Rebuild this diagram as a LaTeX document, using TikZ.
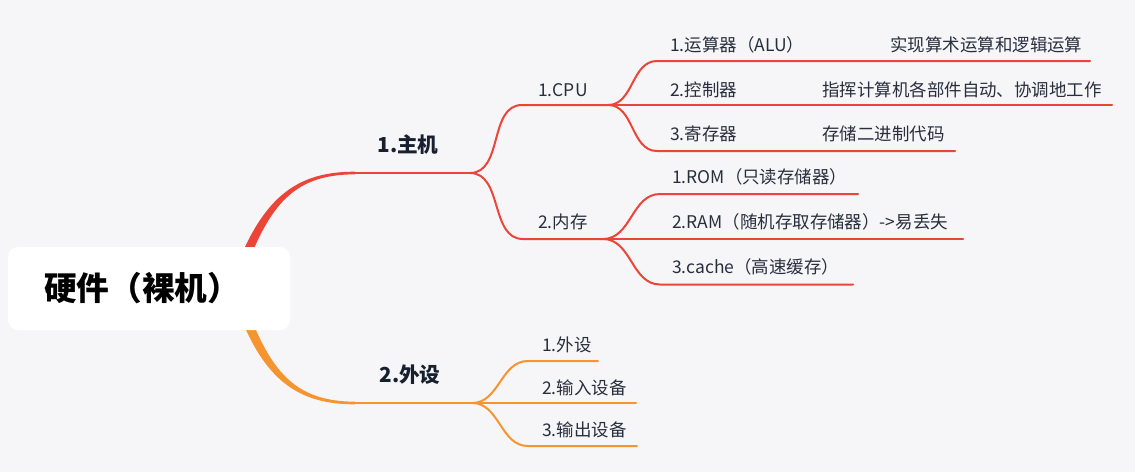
\documentclass[tikz,border=0pt]{standalone}
\usepackage{fontspec}
\setmainfont{Noto Sans CJK SC}
\definecolor{bg}{RGB}{246,246,249}
\definecolor{redb}{RGB}{236,68,55}
\definecolor{orangeb}{RGB}{246,149,48}
\definecolor{lbl}{RGB}{40,46,60}
\definecolor{lblb}{RGB}{24,32,48}
\begin{document}
\begin{tikzpicture}[x=0.75pt,y=-0.75pt,
  lab/.style={anchor=west,inner sep=0pt,text=lbl,font=\fontsize{13.1}{15}\selectfont},
  blab/.style={anchor=center,inner sep=0pt,text=lblb,font=\fontsize{15.5}{18}\selectfont\bfseries},
  rootbox/.style={fill=white,rounded corners=7.5pt,minimum width=211.5pt,minimum height=62.25pt,inner sep=0pt,text=black,font=\fontsize{24.5}{28}\selectfont\bfseries},
  rline/.style={draw=redb,line width=1.5pt,line cap=round},
  oline/.style={draw=orangeb,line width=1.5pt,line cap=round}]
\fill[bg] (0,0) rectangle (1135,472);
\useasboundingbox (0,0) rectangle (1135,472);

% tapered main branches (behind root)
\fill[redb] (228,290) .. controls (257,204) and (290,171.4) .. (355,171.7) -- (355,174.3) .. controls (291,174.6) and (267,206) .. (238,290) -- cycle;
\fill[orangeb] (230,288) .. controls (257,372) and (290,404.6) .. (355,404.3) -- (355,401.7) .. controls (291,401.4) and (267,368) .. (240,288) -- cycle;

\node[rootbox] (root) at (149,288.5) {硬件（裸机）\kern10.5pt};

% coordinates
\coordinate (m1s) at (355,173);
\coordinate (m1j) at (470,173);
\coordinate (cpus) at (522,105);
\coordinate (cpuj) at (608,105);
\coordinate (c1s) at (657,61);
\coordinate (c1e) at (1090,61);
\coordinate (c2e) at (1112,105);
\coordinate (c3s) at (657,151);
\coordinate (c3e) at (955,151);
\coordinate (mems) at (523,239);
\coordinate (memj) at (603,239);
\coordinate (r1s) at (660,194);
\coordinate (r1e) at (858,194);
\coordinate (r2e) at (963,239);
\coordinate (r3s) at (660,284.5);
\coordinate (r3e) at (853,284.5);
\coordinate (m2s) at (355,403);
\coordinate (m2j) at (472,403);
\coordinate (p1s) at (528,361);
\coordinate (p1e) at (598,361);
\coordinate (p2e) at (636,403);
\coordinate (p3s) at (528,446);
\coordinate (p3e) at (637,446);

% red branch
\draw[rline,line width=1.9pt] (m1s) -- (m1j);
\draw[rline] (m1j) to[out=0,in=180] (cpus) -- (cpuj);
\draw[rline] (m1j) to[out=0,in=180] (mems) -- (memj);
\draw[rline] (cpuj) to[out=0,in=180] (c1s) -- (c1e);
\draw[rline] (cpuj) -- (c2e);
\draw[rline] (cpuj) to[out=0,in=180] (c3s) -- (c3e);
\draw[rline] (memj) to[out=0,in=180] (r1s) -- (r1e);
\draw[rline] (memj) -- (r2e);
\draw[rline] (memj) to[out=0,in=180] (r3s) -- (r3e);

% orange branch
\draw[oline,line width=1.9pt] (m2s) -- (m2j);
\draw[oline] (m2j) to[out=0,in=180] (p1s) -- (p1e);
\draw[oline] (m2j) -- (p2e);
\draw[oline] (m2j) to[out=0,in=180] (p3s) -- (p3e);

% labels
\node[blab] (zhuji) at (408,145) {1.主机};
\node[blab] (waishe) at (410,375) {2.外设};
\node[lab] (cpu) at (538,90) {1.CPU};
\node[lab] (neicun) at (538,222) {2.内存};
\node[lab] (alu) at (670,45) {1.运算器（ALU）};
\node[lab] (alud) at (890,45) {实现算术运算和逻辑运算};
\node[lab] (ctl) at (670,90) {2.控制器};
\node[lab] (ctld) at (822,90) {指挥计算机各部件自动、协调地工作};
\node[lab] (reg) at (670,134) {3.寄存器};
\node[lab] (regd) at (822,134) {存储二进制代码};
\node[lab] (rom) at (672,177) {1.ROM（只读存储器）};
\node[lab] (ram) at (672,222) {2.RAM（随机存取存储器）->易丢失};
\node[lab] (cache) at (672,267) {3.cache（高速缓存）};
\node[lab] (ws1) at (542,345) {1.外设};
\node[lab] (ws2) at (542,388) {2.输入设备};
\node[lab] (ws3) at (542,430) {3.输出设备};
\end{tikzpicture}
\end{document}
